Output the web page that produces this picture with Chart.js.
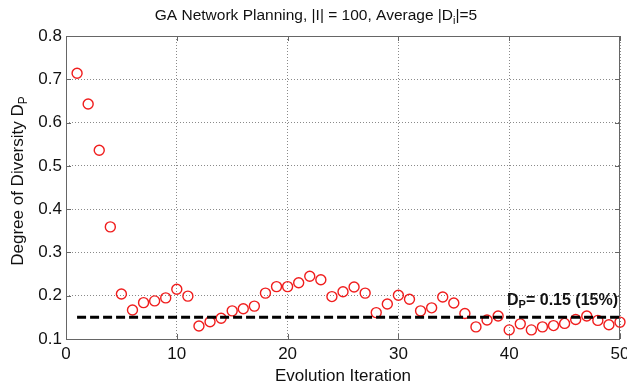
<!DOCTYPE html>
<html>
<head>
<meta charset="utf-8">
<script src="https://cdn.jsdelivr.net/npm/chart.js@4/dist/chart.umd.min.js"></script>
<style>
  html, body { margin: 0; padding: 0; background: #fff; }
  #wrap { width: 627px; height: 387px; position: relative; }
</style>
</head>
<body>
<div id="wrap"><canvas id="c" width="627" height="387"></canvas></div>
<script>
// Evolution iterations and the degree of diversity measured at each one
const iterations = [1,2,3,4,5,6,7,8,9,10,11,12,13,14,15,16,17,18,19,20,21,22,23,24,25,
                    26,27,28,29,30,31,32,33,34,35,36,37,38,39,40,41,42,43,44,45,46,47,48,49,50];
const diversity = [0.714,0.643,0.536,0.359,0.204,0.167,0.184,0.188,0.195,0.215,
                   0.199,0.130,0.140,0.148,0.165,0.170,0.176,0.206,0.221,0.221,
                   0.230,0.245,0.237,0.198,0.209,0.220,0.206,0.161,0.181,0.201,
                   0.192,0.165,0.172,0.197,0.183,0.159,0.128,0.144,0.153,0.121,
                   0.135,0.121,0.128,0.131,0.136,0.145,0.153,0.143,0.133,0.139];
// Target diversity level and the iteration span it is drawn across
const targetLevel = 0.15;
const targetSpan = [1, 50];
const xTicks = [0, 10, 20, 30, 40, 50];
const yTicks = [0.1, 0.2, 0.3, 0.4, 0.5, 0.6, 0.7, 0.8];

const FONT = '"Liberation Sans", Arial, Helvetica, sans-serif';

// Draws the text pieces with subscripts, the axes box and inward tick marks
const decorations = {
  id: 'decorations',
  beforeDatasetsDraw(chart) {
    const { ctx, chartArea: a, scales } = chart;
    ctx.save();

    // box around the axes
    ctx.strokeStyle = '#666';
    ctx.lineWidth = 1;
    ctx.strokeRect(a.left + 0.5, a.top + 0.5, a.right - a.left - 1, a.bottom - a.top);

    // inward ticks on all four sides
    const tl = 5;
    ctx.beginPath();
    xTicks.forEach(v => {
      const x = Math.round(scales.x.getPixelForValue(v)) + 0.5;
      ctx.moveTo(x, a.bottom); ctx.lineTo(x, a.bottom - tl);
      ctx.moveTo(x, a.top); ctx.lineTo(x, a.top + tl);
    });
    yTicks.forEach(v => {
      const y = Math.round(scales.y.getPixelForValue(v)) + 0.5;
      ctx.moveTo(a.left, y); ctx.lineTo(a.left + tl, y);
      ctx.moveTo(a.right, y); ctx.lineTo(a.right - tl, y);
    });
    ctx.stroke();
    ctx.restore();
  },
  afterDraw(chart) {
    const { ctx, chartArea: a, scales } = chart;
    ctx.save();
    ctx.fillStyle = '#111';
    ctx.textBaseline = 'alphabetic';

    // helper: draw a run of [text, isSub] pieces starting at x
    function runWidth(parts, size, weight) {
      let w = 0;
      parts.forEach(([t, sub]) => {
        ctx.font = `${weight} ${sub ? Math.round(size * 0.68) : size}px ${FONT}`;
        w += ctx.measureText(t).width;
      });
      return w;
    }
    function drawRun(parts, x, y, size, weight, subShift) {
      parts.forEach(([t, sub]) => {
        ctx.font = `${weight} ${sub ? Math.round(size * 0.68) : size}px ${FONT}`;
        ctx.textAlign = 'left';
        ctx.fillText(t, x, sub ? y + subShift : y);
        x += ctx.measureText(t).width;
      });
    }

    // title
    const title = [['GA Network Planning, |I| = 100, Average |D', false], ['i', true], ['|=5', false]];
    const tw = runWidth(title, 15.5, 'normal');
    drawRun(title, 316 - tw / 2, 20, 15.5, 'normal', 4);

    // x axis title
    ctx.font = `normal 17px ${FONT}`;
    ctx.textAlign = 'center';
    ctx.fillText('Evolution Iteration', (a.left + a.right) / 2, 381);

    // y axis title (rotated)
    const ylab = [['Degree of Diversity D', false], ['P', true]];
    const yw = runWidth(ylab, 17, 'normal');
    ctx.save();
    ctx.translate(23, 181);
    ctx.rotate(-Math.PI / 2);
    drawRun(ylab, -yw / 2, 0, 17, 'normal', 4);
    ctx.restore();

    // label of the target level
    const ann = [['D', false], ['P', true], ['= 0.15 (15%)', false]];
    const aw = runWidth(ann, 16, 'bold');
    const ay = scales.y.getPixelForValue(targetLevel) - 12;
    drawRun(ann, a.right - 2 - aw, ay, 16, 'bold', 3);

    ctx.restore();
  }
};

const scatterData = iterations.map((x, i) => ({ x, y: diversity[i] }));
const targetData = targetSpan.map(x => ({ x, y: targetLevel }));

new Chart(document.getElementById('c'), {
  data: {
    datasets: [
      {
        type: 'line',
        data: targetData,
        borderColor: '#000',
        borderWidth: 3,
        borderDash: [9, 4],
        pointRadius: 0,
        fill: false,
        clip: false,
        order: 0
      },
      {
        type: 'scatter',
        data: scatterData,
        pointStyle: 'circle',
        pointRadius: 5,
        pointBorderWidth: 1.4,
        pointBorderColor: '#f01d1d',
        pointBackgroundColor: 'rgba(0,0,0,0)',
        clip: false,
        order: 1
      }
    ]
  },
  options: {
    responsive: false,
    animation: false,
    events: [],
    layout: { padding: { top: 36, right: 7, left: 0, bottom: 0 } },
    plugins: { legend: { display: false }, tooltip: { enabled: false }, title: { display: false } },
    scales: {
      x: {
        type: 'linear',
        min: 0, max: 50,
        afterFit(scale) { scale.height = 48; scale.paddingLeft = 0; scale.paddingRight = 0; },
        afterBuildTicks(scale) { scale.ticks = xTicks.map(v => ({ value: v })); },
        grid: { color: '#8a8a8a', lineWidth: 1, drawTicks: false },
        border: { display: false, dash: [1, 2] },
        ticks: {
          padding: 5,
          color: '#111',
          font: { family: FONT, size: 17 },
          maxRotation: 0,
          callback: v => String(v)
        }
      },
      y: {
        type: 'linear',
        min: 0.1, max: 0.8,
        afterFit(scale) { scale.width = 66; scale.paddingTop = 0; scale.paddingBottom = 0; },
        afterBuildTicks(scale) { scale.ticks = yTicks.map(v => ({ value: v })); },
        grid: { color: '#8a8a8a', lineWidth: 1, drawTicks: false },
        border: { display: false, dash: [1, 2] },
        ticks: {
          padding: 4,
          color: '#111',
          font: { family: FONT, size: 17 },
          callback: v => String(Math.round(v * 10) / 10)
        }
      }
    }
  },
  plugins: [decorations]
});
</script>
</body>
</html>
